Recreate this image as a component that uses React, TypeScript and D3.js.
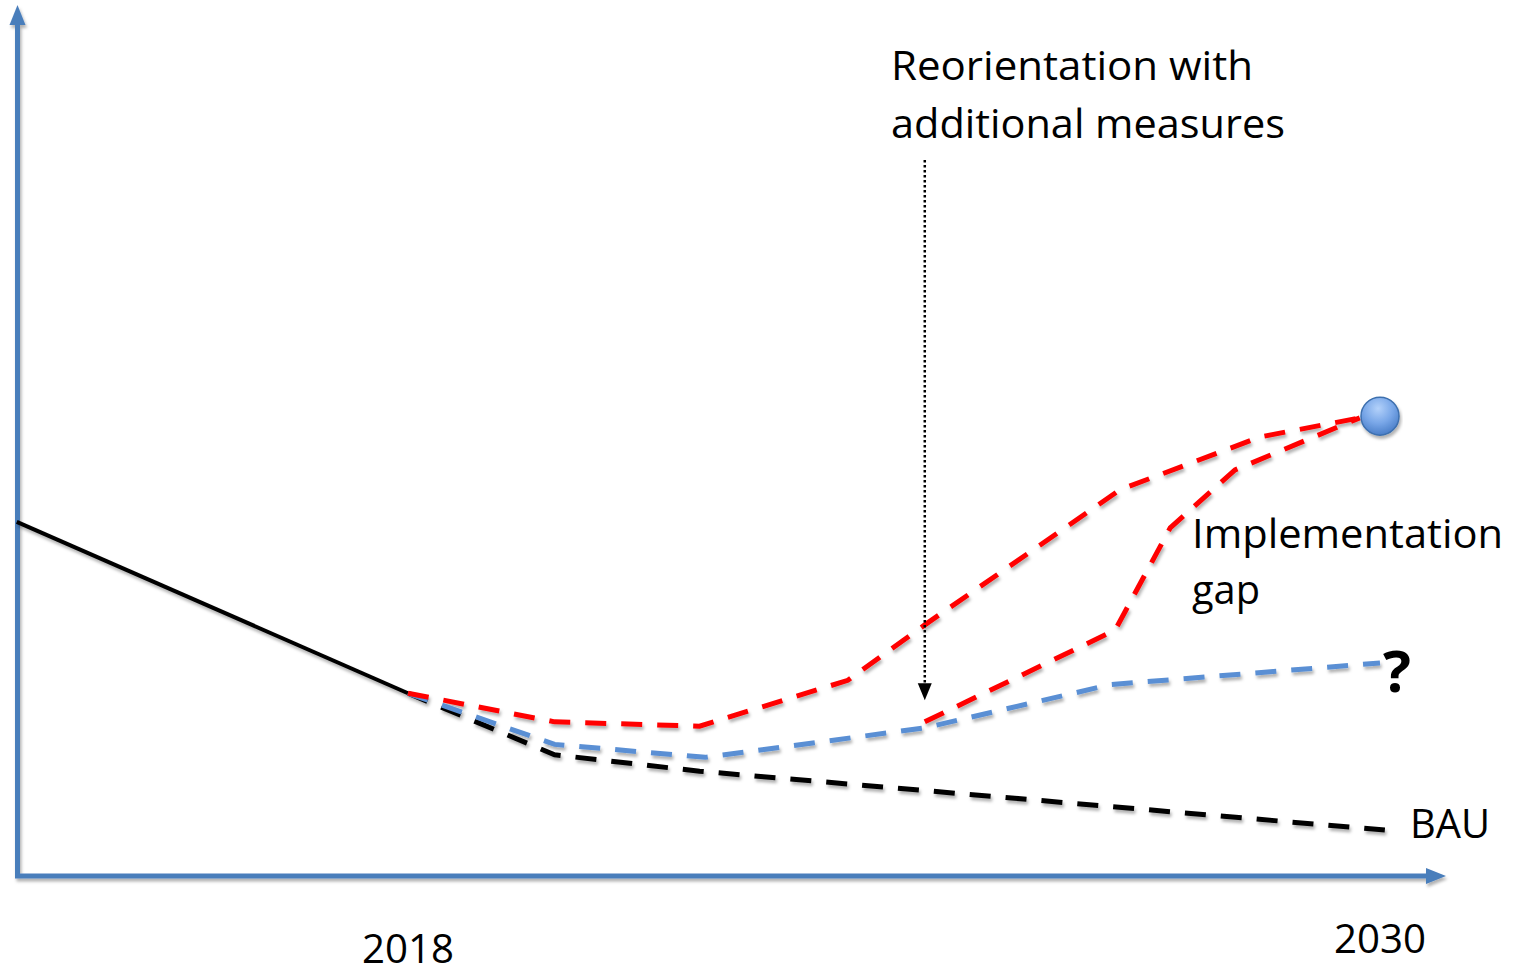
import * as d3 from "d3";

// x = year, y = emission index (arbitrary units)
const historical: [number, number][] = [
  [2013.17, 40.9],
  [2018, 21.1],
];
const bau: [number, number][] = [
  [2018, 21.1],
  [2019.81, 14.0],
  [2021.6, 12.1],
  [2030.06, 5.3],
];
const withMeasures: [number, number][] = [
  [2018, 21.1],
  [2019.81, 15.2],
  [2021.67, 13.7],
  [2024.38, 17.1],
  [2026.67, 22.1],
  [2030, 24.6],
];
const reorientation: [number, number][] = [
  [2018, 21.1],
  [2019.81, 17.8],
  [2021.6, 17.3],
  [2023.43, 22.6],
  [2024.38, 29.0],
  [2026.79, 44.6],
  [2028.52, 50.7],
  [2029.75, 52.9],
];
const lateReorientation: [number, number][] = [
  [2024.38, 17.8],
  [2026.73, 28.4],
  [2027.41, 40.2],
  [2028.21, 46.9],
  [2029.75, 52.9],
];
const target: [number, number] = [2030, 53.1];
const yearTicks = [2018, 2030];

const W = 1515;
const H = 975;

const AXIS = "#4a7ebb";
const RED = "#ff0000";
const BLUE = "#5a8fd4";
const FONT = "'Open Sans', 'Noto Sans', sans-serif";

export default function App() {
  const x = d3.scaleLinear().domain([2018, 2030]).range([408, 1380]);
  const y = d3.scaleLinear().domain([0, 100]).range([876, 10]);
  const line = d3
    .line<[number, number]>()
    .x((d) => x(d[0]))
    .y((d) => y(d[1]));

  const x0 = 17.5;
  const y0 = y(0);
  const xEnd = 1446;
  const yTop = 5;

  const arrowX = x(2024.38);
  const arrowTop = 160;
  const arrowTip = y(20.3);

  return (
    <svg
      width={W}
      height={H}
      style={{ position: "absolute", left: 0, top: 0, background: "#fff" }}
    >
      <defs>
        <filter id="sh" x="-10%" y="-10%" width="120%" height="130%">
          <feDropShadow dx="1.5" dy="3" stdDeviation="1.8" floodColor="#000" floodOpacity="0.3" />
        </filter>
        <radialGradient id="ball" cx="45%" cy="30%" r="70%">
          <stop offset="0%" stopColor="#b3d1fa" />
          <stop offset="55%" stopColor="#79a7e8" />
          <stop offset="100%" stopColor="#4a7ec8" />
        </radialGradient>
      </defs>

      {/* axes */}
      <g filter="url(#sh)">
        <line x1={x0} y1={y0} x2={x0} y2={yTop + 18} stroke={AXIS} strokeWidth={5} />
        <path d={`M${x0},${yTop} L${x0 - 8},${yTop + 20} L${x0 + 8},${yTop + 20} Z`} fill={AXIS} />
        <line x1={x0 - 2.5} y1={y0} x2={xEnd - 18} y2={y0} stroke={AXIS} strokeWidth={5} />
        <path d={`M${xEnd},${y0} L${xEnd - 20},${y0 - 8} L${xEnd - 20},${y0 + 8} Z`} fill={AXIS} />
      </g>

      {/* series */}
      <g filter="url(#sh)" fill="none" strokeWidth={5}>
        <path d={line(historical) ?? ""} stroke="#000" strokeWidth={4} />
        <path d={line(bau) ?? ""} stroke="#000" strokeDasharray="21 15" />
        <path d={line(withMeasures) ?? ""} stroke={BLUE} strokeDasharray="21 15" />
        <path d={line(reorientation) ?? ""} stroke={RED} strokeDasharray="21 15" />
        <path d={line(lateReorientation) ?? ""} stroke={RED} strokeDasharray="21 15" />
      </g>

      <circle
        cx={x(target[0])}
        cy={y(target[1])}
        r={19}
        fill="url(#ball)"
        stroke="#3d6fae"
        strokeWidth={1.5}
        filter="url(#sh)"
      />

      {/* dotted arrow */}
      <line
        x1={arrowX}
        y1={arrowTop}
        x2={arrowX}
        y2={arrowTip - 14}
        stroke="#000"
        strokeWidth={2.5}
        strokeDasharray="2.5 2.5"
      />
      <path
        d={`M${arrowX},${arrowTip} L${arrowX - 7},${arrowTip - 17} L${arrowX + 7},${arrowTip - 17} Z`}
        fill="#000"
      />

      {/* labels */}
      <g fontFamily={FONT} fontSize={40} fill="#000">
        <text x={891} y={80} textLength={362} lengthAdjust="spacingAndGlyphs">
          Reorientation with
        </text>
        <text x={891} y={138} textLength={394} lengthAdjust="spacingAndGlyphs">
          additional measures
        </text>
        <text x={1192} y={548} textLength={311} lengthAdjust="spacingAndGlyphs">
          Implementation
        </text>
        <text x={1192} y={604} textLength={68} lengthAdjust="spacingAndGlyphs">
          gap
        </text>
        <text x={1410} y={838} textLength={80} lengthAdjust="spacingAndGlyphs">
          BAU
        </text>
        <text x={1383} y={692} fontSize={58} fontWeight="bold" textLength={28} lengthAdjust="spacingAndGlyphs">
          ?
        </text>
        {yearTicks.map((t, i) => (
          <text
            key={t}
            x={x(t)}
            y={i === 0 ? 963 : 953}
            textAnchor="middle"
            textLength={92}
            lengthAdjust="spacingAndGlyphs"
          >
            {t}
          </text>
        ))}
      </g>
    </svg>
  );
}
